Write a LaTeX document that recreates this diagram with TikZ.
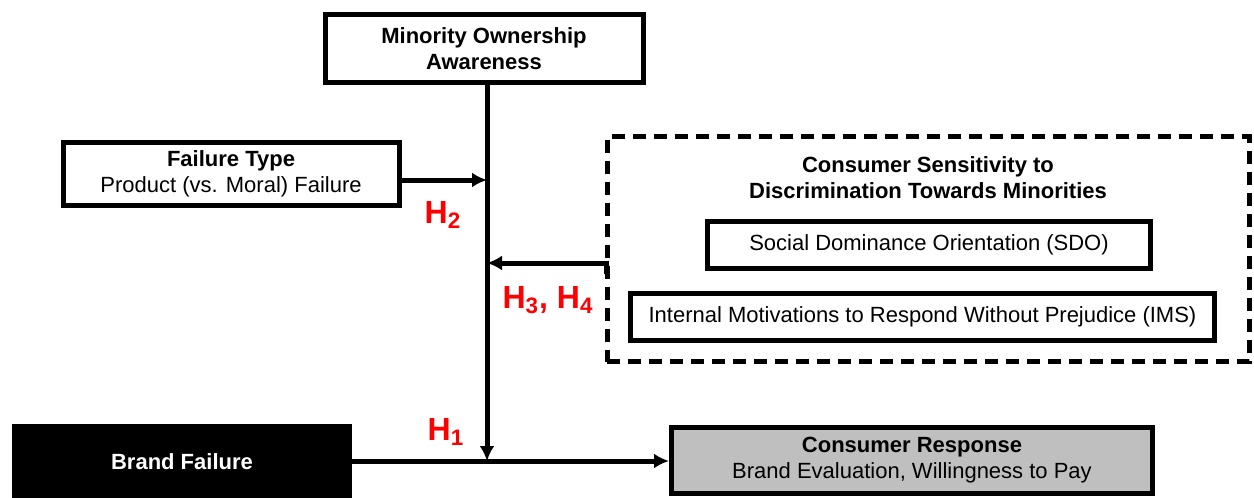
\documentclass[tikz,border=0pt]{standalone}
\usepackage{fontspec}
\setmainfont{Liberation Sans}
\usepackage{tikz}
\usetikzlibrary{arrows.meta}
\tikzset{
  box_plain/.style={rectangle, draw, line width = 2.5pt, fill = white, align = center, inner sep = 0, font = \fontsize{11}{13}\selectfont},
  box_gray/.style={box_plain, fill = black!25},
  box_black/.style={rectangle, draw = none, fill = black, text = white, align = center, inner sep = 0, font = \bfseries\fontsize{11}{13}\selectfont},
  box_dashed/.style={rectangle, draw, line width = 2.5pt, dash pattern = on 6.5pt off 4pt, inner sep = 0},
  title_text/.style={draw = none, align = center, inner sep = 0, font = \bfseries\fontsize{11}{13}\selectfont},
  arrow_main/.style={-{Latex[length = 7.5pt, width = 7.5pt]}, line width = 2.5pt, color = black},
  hyp_label/.style={draw = none, text = red, inner sep = 0, font = \bfseries\fontsize{16}{16}\selectfont}}

\begin{document}
\begin{tikzpicture}[x = 0.5pt, y = -0.5pt]
\useasboundingbox (0,0) rectangle (1254,498);

\node[box_plain, minimum width = 159pt, minimum height = 34pt] at (484,48.5) (own) {\textbf{Minority Ownership}\\\textbf{Awareness}};
\node[box_plain, minimum width = 168pt, minimum height = 31.5pt] at (231,174) (fail) {\textbf{Failure Type}\\Product (vs. Moral) Failure};

\node[box_dashed, minimum width = 321pt, minimum height = 112.5pt] at (928,249) (sens) {};
\node[title_text] at (928,178) (senstitle) {Consumer Sensitivity to\\Discrimination Towards Minorities};
\node[box_plain, minimum width = 221.5pt, minimum height = 23.5pt] at (929,245) (sdo) {Social Dominance Orientation (SDO)};
\node[box_plain, minimum width = 292pt, minimum height = 23.5pt] at (922.5,317) (ims) {Internal Motivations to Respond Without Prejudice (IMS)};

\node[box_black, minimum width = 170pt, minimum height = 38pt] at (182,462) (brand) {Brand Failure};
\node[box_gray, minimum width = 240.5pt, minimum height = 33pt] at (912,460.5) (resp) {\textbf{Consumer Response}\\Brand Evaluation, Willingness to Pay};

%% joints on the moderator line
\coordinate (j2) at (487,180);
\coordinate (j34) at (487,263);
\coordinate (j1) at (487,461);
\coordinate (sensout) at (606,274);

%% arrows
\draw[arrow_main] (own.south -| j1) -- (j1);
\draw[arrow_main] (fail.east |- j2) -- (j2);
\draw[arrow_main] (sensout) |- (j34);
\draw[arrow_main] (brand.east |- j1) -- (resp.west |- j1);

%% hypotheses
\node[hyp_label] at (443,215) (h2) {H\textsubscript{2}};
\node[hyp_label] at (548,300) (h34) {H\textsubscript{3}, H\textsubscript{4}};
\node[hyp_label] at (446,432) (h1) {H\textsubscript{1}};

\end{tikzpicture}
\end{document}
